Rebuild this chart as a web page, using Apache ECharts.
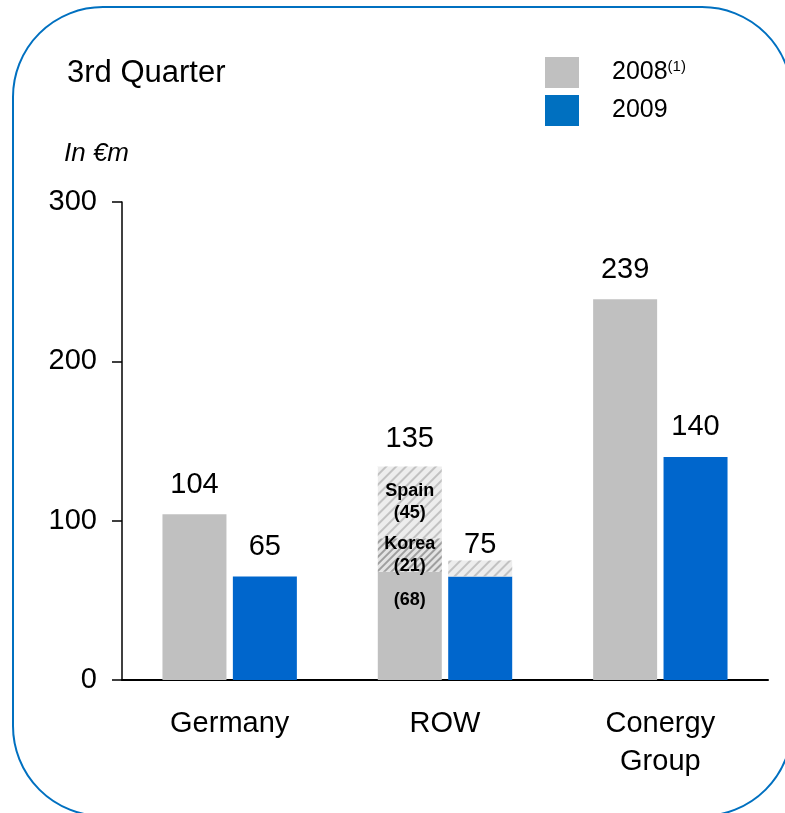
<!DOCTYPE html>
<html>
<head>
<meta charset="utf-8">
<script src="https://cdn.jsdelivr.net/npm/echarts@6/dist/echarts.min.js"></script>
<style>
  html, body { margin: 0; padding: 0; background: #fff; }
  #main { width: 785px; height: 813px; }
</style>
</head>
<body>
<div id="main"></div>
<script>
// data
var categories = ['Germany', 'ROW', 'Conergy\nGroup'];
var base2008 = [104, 68, 239];
var korea2008 = [null, 21, null];
var spain2008 = [null, 45, null];
var total2008 = [104, 135, 239];
var base2009 = [65, 65, 140];
var extra2009 = [null, 10, null];
var total2009 = [65, 75, 140];
var yTicks = [0, 100, 200, 300];

var FONT = 'Liberation Sans, Arial, sans-serif';
var GRAY = '#C0C0C0';
var BLUE = '#0066CC';

var chart = echarts.init(document.getElementById('main'), null, { renderer: 'canvas' });

// hatched look for the ROW extras
var lightHatch = {
  symbol: 'rect', symbolSize: 1, rotation: -Math.PI / 4,
  dashArrayX: [1, 0], dashArrayY: [2, 5],
  color: 'rgba(175,175,175,0.7)'
};
var denseHatch = {
  symbol: 'rect', symbolSize: 1, rotation: -Math.PI / 4,
  dashArrayX: [1, 0], dashArrayY: [2, 3],
  color: 'rgba(130,130,130,0.7)'
};

var topLabel = { show: true, position: 'top', distance: 15, fontSize: 29, color: '#000', fontFamily: FONT };

var innerLabel = { show: true, fontSize: 18, fontWeight: 'bold', color: '#000', fontFamily: FONT, lineHeight: 22 };

var option = {
  backgroundColor: '#fff',
  textStyle: { fontFamily: FONT },
  graphic: [
    {
      type: 'rect',
      shape: { x: 13, y: 7, width: 779, height: 809, r: 90 },
      style: { fill: 'none', stroke: '#0070C0', lineWidth: 2 },
      z: -1
    },
    {
      type: 'text', left: 67, top: 58,
      style: { text: '3rd Quarter', fontSize: 31, fill: '#000', fontFamily: FONT }
    },
    {
      type: 'text', left: 64, top: 141,
      style: { text: 'In €m', fontSize: 26, fontStyle: 'italic', fill: '#000', fontFamily: FONT }
    }
  ],
  legend: {
    orient: 'vertical',
    left: 545,
    top: 57,
    padding: 0,
    itemWidth: 34,
    itemHeight: 31,
    itemGap: 7,
    icon: 'rect',
    data: [
      { name: '2008', itemStyle: { color: GRAY, decal: 'none' } },
      { name: '2009', itemStyle: { color: '#0070C0', decal: 'none' } }
    ],
    formatter: function (name) {
      return name === '2008' ? '{a|2008}{s|(1)}' : '{a|2009}';
    },
    textStyle: {
      padding: [0, 0, 0, 28],
      rich: {
        a: { fontSize: 25, color: '#000', fontFamily: FONT },
        s: { fontSize: 15, color: '#000', fontFamily: FONT, padding: [0, 0, 12, 0] }
      }
    }
  },
  grid: { left: 122, right: 17, top: 202, bottom: 133 },
  xAxis: {
    type: 'category',
    data: categories,
    axisLine: { lineStyle: { color: '#000', width: 2 } },
    axisTick: { show: false },
    axisLabel: { fontSize: 29, color: '#000', margin: 25, lineHeight: 38, fontFamily: FONT }
  },
  yAxis: {
    type: 'value',
    min: yTicks[0],
    max: yTicks[yTicks.length - 1],
    interval: 100,
    axisLine: { show: true, lineStyle: { color: '#000', width: 1.5 } },
    axisTick: { show: true, length: 10, lineStyle: { color: '#000', width: 1.5 } },
    splitLine: { show: false },
    axisLabel: { fontSize: 29, color: '#000', margin: 25, fontFamily: FONT }
  },
  series: [
    {
      name: '2008', type: 'bar', stack: 'y2008', barWidth: 64, barGap: '10%',
      itemStyle: { color: GRAY },
      data: base2008.map(function (v, i) {
        if (i === 1) {
          return { value: v, label: Object.assign({}, innerLabel, { position: 'insideTop', distance: 17, formatter: '(' + v + ')' }) };
        }
        return { value: v, label: Object.assign({}, topLabel, { formatter: String(total2008[i]) }) };
      })
    },
    {
      name: 'Korea', type: 'bar', stack: 'y2008', barWidth: 64,
      itemStyle: { color: '#e4e4e4', decal: denseHatch },
      label: Object.assign({}, innerLabel, { position: 'inside', formatter: function (p) { return 'Korea\n(' + p.value + ')'; } }),
      data: korea2008
    },
    {
      name: 'Spain', type: 'bar', stack: 'y2008', barWidth: 64,
      itemStyle: { color: '#ededed', decal: lightHatch },
      label: Object.assign({}, innerLabel, { position: 'inside', formatter: function (p) { return 'Spain\n(' + p.value + ')'; } }),
      data: spain2008
    },
    {
      name: 'ROW total', type: 'bar', stack: 'y2008', barWidth: 64,
      itemStyle: { color: 'transparent' },
      label: Object.assign({}, topLabel, { distance: 13, formatter: function (p) { return String(total2008[p.dataIndex]); } }),
      data: [null, 0.001, null]
    },
    {
      name: '2009', type: 'bar', stack: 'y2009', barWidth: 64,
      itemStyle: { color: BLUE },
      data: base2009.map(function (v, i) {
        if (i === 1) return { value: v };
        return { value: v, label: Object.assign({}, topLabel, { formatter: String(total2009[i]) }) };
      })
    },
    {
      name: 'ROW 2009 extra', type: 'bar', stack: 'y2009', barWidth: 64,
      itemStyle: { color: '#ededed', decal: lightHatch },
      label: Object.assign({}, topLabel, { distance: 1, formatter: function (p) { return String(total2009[p.dataIndex]); } }),
      data: extra2009
    }
  ]
};

chart.setOption(option);
</script>
</body>
</html>
